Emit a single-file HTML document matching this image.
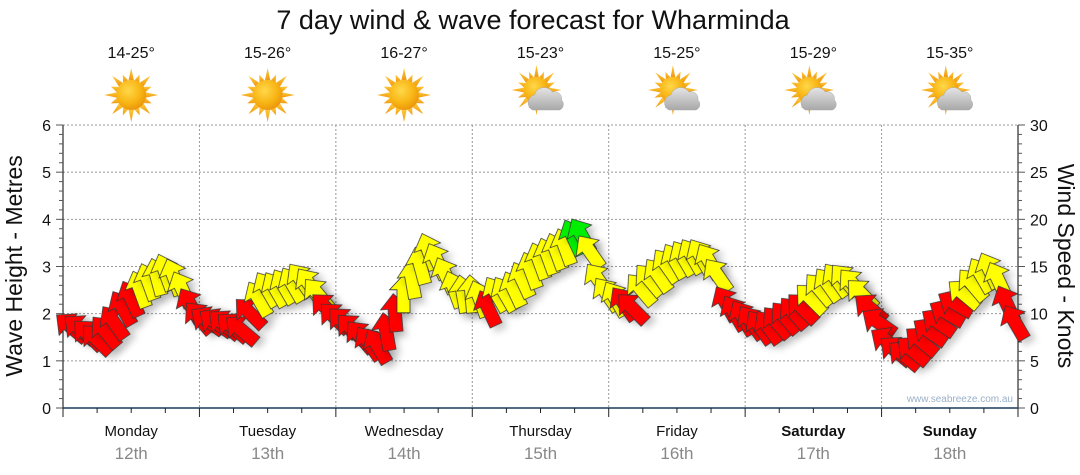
<!DOCTYPE html>
<html><head><meta charset="utf-8">
<style>
html,body{margin:0;padding:0;background:#fff;}
svg{display:block;font-family:"Liberation Sans",Arial,sans-serif;}
</style></head>
<body>
<svg id="chart" width="1080" height="475" viewBox="0 0 1080 475" xmlns="http://www.w3.org/2000/svg">
<defs>
<filter id="sh" x="-50%" y="-50%" width="200%" height="200%"><feDropShadow dx="3" dy="6" stdDeviation="3.5" flood-color="#000" flood-opacity="0.2"/></filter>
<radialGradient id="sunG" cx="0.4" cy="0.35" r="0.7"><stop offset="0" stop-color="#ffd84a"/><stop offset="0.6" stop-color="#f8b514"/><stop offset="1" stop-color="#e8920a"/></radialGradient>
<linearGradient id="rayG" x1="0" y1="0" x2="0" y2="1"><stop offset="0" stop-color="#ffc83a"/><stop offset="1" stop-color="#f09a10"/></linearGradient>
<linearGradient id="cloudG" x1="0" y1="0" x2="0" y2="1"><stop offset="0" stop-color="#e4e4e4"/><stop offset="1" stop-color="#a8a8a8"/></linearGradient>
</defs>
<text x="533" y="29" font-size="27" text-anchor="middle" fill="#111">7 day wind &amp; wave forecast for Wharminda</text>
<g id="axes"></g>
<g id="icons"></g>
<g id="arrows"></g>
<text transform="translate(22,266) rotate(-90)" font-size="23" text-anchor="middle" fill="#111">Wave Height - Metres</text>
<text transform="translate(1058,266) rotate(90)" font-size="23" text-anchor="middle" fill="#111">Wind Speed - Knots</text>
<text x="1013" y="402" font-size="10" text-anchor="end" fill="#9ab0c8">www.seabreeze.com.au</text>
</svg>
<script>
const days = ["Monday","Tuesday","Wednesday","Thursday","Friday","Saturday","Sunday"];
const dates = ["12th","13th","14th","15th","16th","17th","18th"];
const temps = ["14-25°","15-26°","16-27°","15-23°","15-25°","15-29°","15-35°"];
const cloudy = [false,false,false,true,true,true,true];
const waveTicks = [0,1,2,3,4,5,6];
const knotTicks = [0,5,10,15,20,25,30];
const knots = [
8.5,8.3,7.7,7.2,8.0,9.0,10.5,11.5,12.5,13.3,13.8,14.3,13.8,12.5,10.8,9.5,
9.2,9.0,8.8,8.5,8.2,10.0,11.5,12.5,12.5,12.8,13.0,13.5,13.0,12.0,10.5,9.5,
9.0,8.3,7.5,6.8,6.5,8.0,10.0,12.0,13.5,15.0,16.5,15.5,14.0,12.5,12.0,12.0,
11.5,10.5,12.0,12.0,12.5,13.5,14.5,15.5,16.0,16.5,17.0,18.0,18.2,16.5,13.5,12.0,
11.5,11.0,10.5,12.5,13.5,14.0,15.0,15.5,15.8,16.0,16.0,15.5,14.0,11.0,10.0,9.5,
9.0,8.5,8.5,9.0,9.5,10.0,10.5,11.5,12.5,13.0,13.5,13.5,13.0,12.0,10.5,9.0,
7.0,6.0,5.5,6.0,7.0,8.0,9.0,10.0,11.0,12.0,13.0,14.0,14.5,13.5,11.0,9.0];
const colors = (
"rrrrrrrryyyyyyrr"+
"rrrrrryyyyyyyyrr"+
"rrrrrrryyyyyyyyy"+
"yryyyyyyyyyggyyy"+
"yrryyyyyyyyyyrrr"+
"rrrrrrryyyyyyyrr"+
"rrrrrrrrryyyyyrr").split("");
const dirs = [
-50,-50,-45,-45,-40,-35,-30,-25,-20,-20,-15,-20,-20,-25,-30,-40,
-55,-55,-50,-50,-50,-45,-30,-30,-30,-30,-30,-35,-35,-40,-45,-45,
-45,-45,-40,-35,-30,-10,-5,0,-10,-15,-20,-25,-25,-20,-10,-5,
-20,-25,-30,-30,-25,-25,-20,-20,-20,-20,-20,-25,-30,-35,-35,-35,
-30,-35,-45,-40,-40,-35,-35,-30,-30,-30,-30,-30,-35,-30,-30,-30,
-35,-35,-35,-40,-40,-40,-45,-45,-40,-35,-35,-40,-40,-45,-50,-55,
-55,-50,-50,-50,-50,-55,-55,-60,-60,-50,-40,-30,-25,-25,-25,-30];

const X0=63, X1=1018, Y0=408, Y1=125;
const dayW=(X1-X0)/7;
const NS="http://www.w3.org/2000/svg";
function yM(m){return Y0-(m/6)*(Y0-Y1);}
function yK(k){return Y0-(k/30)*(Y0-Y1);}
function xI(i){return 72+i*8.5;}
function mk(tag,attrs,parent){const e=document.createElementNS(NS,tag);for(const a in attrs)e.setAttribute(a,attrs[a]);parent.appendChild(e);return e;}
const axes=document.getElementById('axes');
waveTicks.forEach(m=>{if(m>0){const l=mk('line',{x1:X0,x2:X1,y1:yM(m),y2:yM(m),stroke:'#999','stroke-dasharray':'2,2','stroke-width':1},axes);

}});
for(let d=1;d<7;d++){const l=mk('line',{x1:X0+d*dayW,x2:X0+d*dayW,y1:Y1,y2:Y0,stroke:'#999','stroke-dasharray':'2,2'},axes);

}
mk('line',{x1:X0,x2:X0,y1:Y1,y2:Y0,stroke:'#000'},axes);
for(let m=0;m<=30;m++){const y=yM(m/5);mk('line',{x1:m%5?X0-4:X0-7,x2:X0,y1:y,y2:y,stroke:'#555'},axes);}
waveTicks.forEach(m=>{const t=mk('text',{x:X0-12,y:yM(m)+6,'font-size':16,'text-anchor':'end',fill:'#111'},axes);t.textContent=m;

});
mk('line',{x1:X1,x2:X1,y1:Y1,y2:Y0,stroke:'#000'},axes);
for(let k=0;k<=30;k++){const y=yK(k);mk('line',{x1:X1,x2:k%5?X1+4:X1+7,y1:y,y2:y,stroke:'#555'},axes);}
knotTicks.forEach(k=>{const t=mk('text',{x:X1+12,y:yK(k)+6,'font-size':16,fill:'#111'},axes);t.textContent=k;

});
mk('line',{x1:X0,x2:X1,y1:Y0,y2:Y0,stroke:'#1a3a5a','stroke-width':1.5},axes);
for(let q=0;q<=28;q++){const x=X0+q*dayW/4;mk('line',{x1:x,x2:x,y1:Y0,y2:q%4?Y0+5:Y0+9,stroke:'#222'},axes);}
const icons=document.getElementById('icons');
days.forEach((d,i)=>{
 const cx=X0+(i+0.5)*dayW;
 const t=mk('text',{x:cx,y:436,'font-size':15,'text-anchor':'middle',fill:'#111','font-weight':i>=5?'bold':'normal'},axes);t.textContent=d;
 
 
 const t2=mk('text',{x:cx,y:459,'font-size':17,'text-anchor':'middle',fill:'#888'},axes);t2.textContent=dates[i];
 
 
 const t3=mk('text',{x:cx,y:58,'font-size':16,'text-anchor':'middle',fill:'#111'},axes);t3.textContent=temps[i];
 
 
 const g=mk('g',{},icons);
 
 
 const sx=cloudy[i]?cx-4:cx, sy=cloudy[i]?90:95, r=cloudy[i]?13:15;
 for(let a=0;a<16;a++){const ang=a*Math.PI/8;const L=a%2?r+7:r+12;const w=0.18;
  const p=[[Math.cos(ang)*L,Math.sin(ang)*L],[Math.cos(ang+w)*r,Math.sin(ang+w)*r],[Math.cos(ang-w)*r,Math.sin(ang-w)*r]].map(p=>(sx+p[0])+','+(sy+p[1])).join(' ');
  mk('polygon',{points:p,fill:'url(#rayG)'},g);}
 mk('circle',{cx:sx,cy:sy,r:r,fill:'url(#sunG)'},g);
 if(cloudy[i]){
  mk('path',{d:`M${cx-8},${sy+20} a8,8 0 0 1 2,-15 a10,10 0 0 1 18,-3 a7,7 0 0 1 9,8 a6,6 0 0 1 -2,10 z`,fill:'url(#cloudG)',stroke:'#aaa','stroke-width':0.5},g);
 }
});
const ag=document.getElementById('arrows');
const fillMap={r:'#ff0000',y:'#ffff00',g:'#00ee00'};
knots.forEach((k,i)=>{
 const x=xI(i), y=yK(k);
 const p=mk('polygon',{points:'0,-20 14,-5 6.5,-5 6.5,18 -6.5,18 -6.5,-5 -14,-5',fill:fillMap[colors[i]],stroke:'#333','stroke-width':0.8,transform:`translate(${x},${y}) rotate(${dirs[i]})`,filter:'url(#sh)'},ag);
 
 
});
</script>
</body></html>
